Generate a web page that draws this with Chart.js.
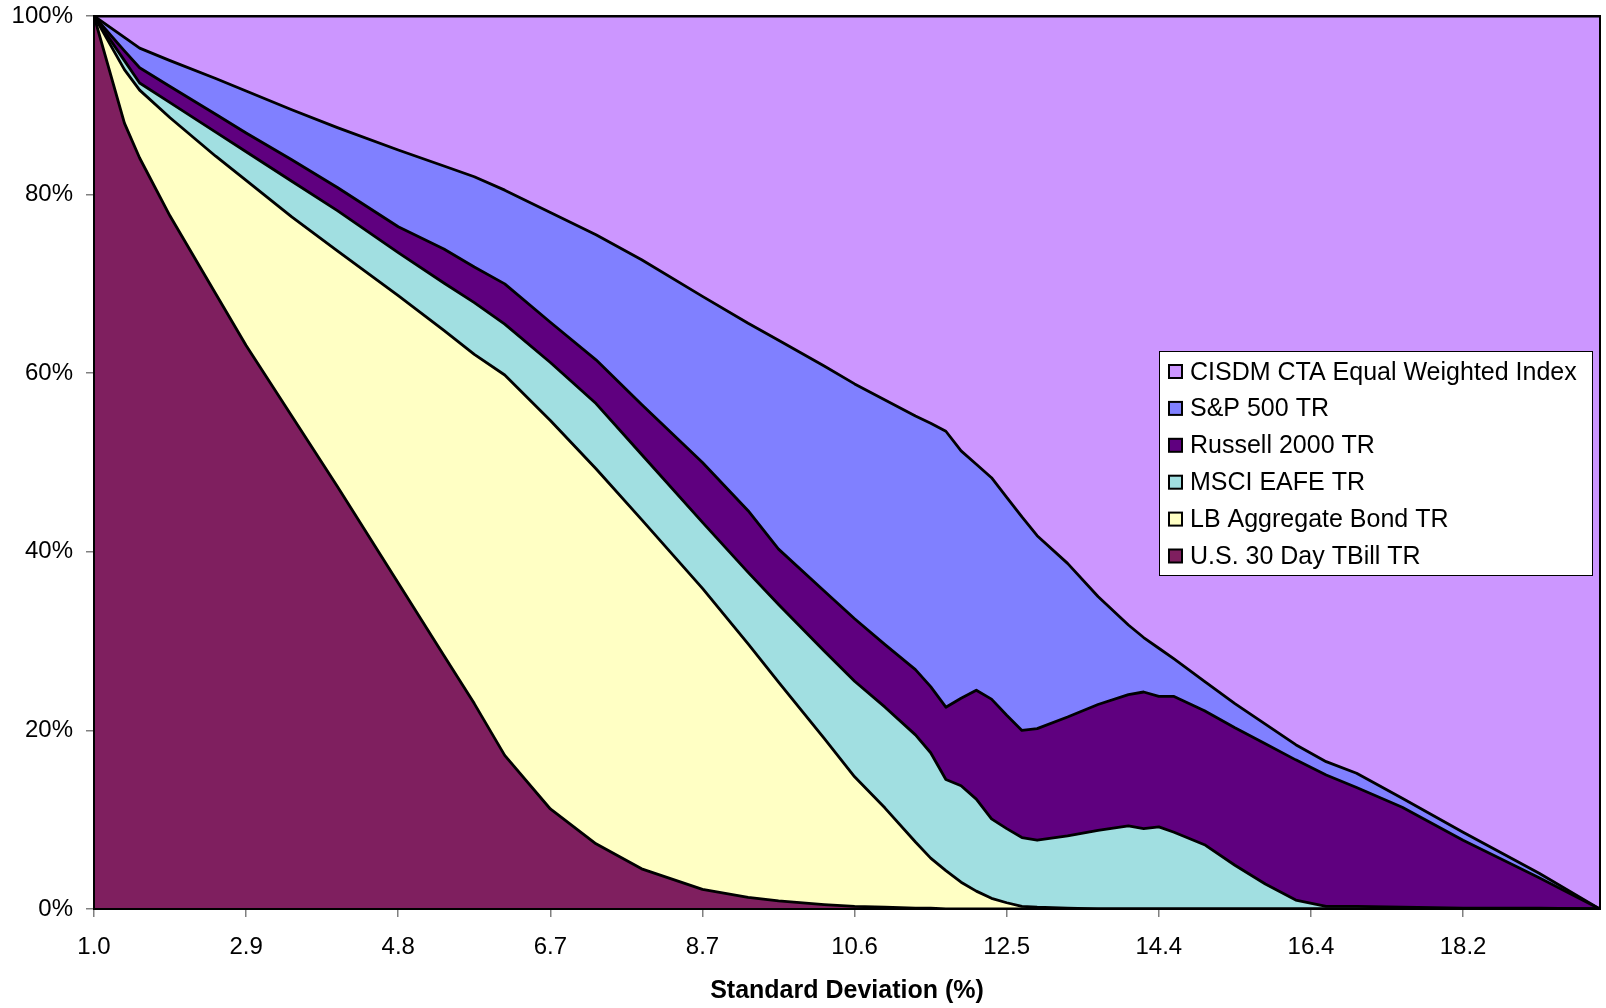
<!DOCTYPE html>
<html>
<head>
<meta charset="utf-8">
<title>Optimal allocation by standard deviation</title>
<script src="https://cdn.jsdelivr.net/npm/chart.js@4.4.1/dist/chart.umd.min.js"></script>
<style>
  html, body { margin: 0; padding: 0; background: #fff; }
  #wrap { width: 1606px; height: 1008px; }
</style>
</head>
<body>
<div id="wrap"><canvas id="chart" width="1606" height="1008"></canvas></div>
<script>
// x axis: category positions (0..99), one tick label every 10 categories
const tickLabels = ['1.0', '2.9', '4.8', '6.7', '8.7', '10.6', '12.5', '14.4', '16.4', '18.2'];
const pointIndex = [0, 2, 3, 5, 8, 10, 13, 16, 20, 23, 25, 27, 30, 33, 36, 40, 43, 45, 48, 50,
  52, 54, 55, 56, 57, 58, 59, 60, 61, 62, 64, 66, 68, 69, 70, 71, 73, 75, 77, 79, 81, 83, 86, 90, 95, 99];

// weights in % (bottom of the stack first)
const tbill = [100, 88.0, 84.1, 77.6, 68.9, 63.1, 55.2, 47.3, 36.5, 28.4, 23.0, 17.2, 11.2, 7.3, 4.5, 2.2, 1.3, 0.9, 0.5, 0.3,
  0.2, 0.1, 0.1, 0, 0, 0, 0, 0, 0, 0, 0, 0, 0, 0, 0, 0, 0, 0, 0, 0, 0, 0, 0, 0, 0, 0];
const lbAggregate = [0, 6.0, 7.6, 11.0, 15.4, 18.5, 22.3, 26.4, 32.2, 36.4, 39.1, 42.6, 43.5, 42.0, 39.1, 33.7, 28.4, 24.5, 18.6, 14.5,
  11.1, 7.4, 5.6, 4.3, 3.0, 2.0, 1.2, 0.7, 0.3, 0.2, 0.1, 0, 0, 0, 0, 0, 0, 0, 0, 0, 0, 0, 0, 0, 0, 0];
const msciEafe = [0, 1.0, 0.8, 1.7, 2.7, 3.2, 4.0, 4.5, 4.8, 5.3, 5.8, 5.7, 6.5, 7.3, 7.3, 7.4, 8.0, 8.7, 9.8, 10.7,
  11.3, 12.0, 11.8, 10.2, 10.8, 10.3, 8.9, 8.3, 7.7, 7.5, 8.1, 8.8, 9.3, 9.0, 9.2, 8.6, 7.2, 4.9, 2.8, 1.0, 0.3, 0.3, 0.2, 0.1, 0.1, 0];
const russell2000 = [0, 1.1, 1.7, 1.8, 2.0, 2.1, 2.4, 2.6, 2.9, 3.8, 4.0, 4.5, 4.5, 4.9, 5.6, 6.7, 6.9, 6.2, 6.7, 7.0,
  7.0, 7.3, 7.4, 8.1, 9.8, 12.2, 13.4, 12.7, 12.0, 12.5, 13.3, 14.1, 14.7, 15.3, 14.6, 15.2, 15.0, 15.4, 15.7, 15.7, 14.7, 13.3, 11.2, 7.6, 3.4, 0];
const sp500 = [0, 1.5, 2.2, 2.9, 4.0, 4.7, 5.6, 6.7, 8.6, 9.3, 10.1, 10.5, 12.3, 14.0, 16.2, 18.6, 21.0, 23.4, 25.2, 26.3,
  27.4, 28.4, 29.5, 30.9, 27.7, 25.3, 24.8, 24.4, 23.9, 21.6, 17.2, 12.1, 7.8, 6.1, 5.4, 4.2, 3.3, 2.7, 2.2, 1.7, 1.5, 1.6, 1.0, 0.9, 0.5, 0];
const cisdmCta = [0, 2.4, 3.6, 5.0, 7.0, 8.4, 10.5, 12.5, 15.0, 16.8, 18.0, 19.5, 22.0, 24.5, 27.3, 31.4, 34.4, 36.3, 39.2, 41.2,
  43.0, 44.8, 45.6, 46.5, 48.7, 50.2, 51.7, 53.9, 56.1, 58.2, 61.3, 65.0, 68.2, 69.6, 70.8, 72.0, 74.5, 77.0, 79.3, 81.6, 83.5, 84.8, 87.6, 91.4, 96.0, 100];

const yTicks = [0, 20, 40, 60, 80, 100];

const FONT = '"Liberation Sans", Arial, Helvetica, sans-serif';

function series(label, values, color, fill) {
  return {
    label: label,
    data: pointIndex.map((x, k) => ({ x: x, y: values[k] })),
    backgroundColor: color,
    borderColor: '#000000',
    borderWidth: 2.8,
    borderJoinStyle: 'round',
    pointRadius: 0,
    pointHoverRadius: 0,
    tension: 0,
    fill: fill
  };
}

const datasets = [
  series('U.S. 30 Day TBill TR', tbill, '#7F1F5F', 'origin'),
  series('LB Aggregate Bond TR', lbAggregate, '#FFFFC4', '-1'),
  series('MSCI EAFE TR', msciEafe, '#A1DFE1', '-1'),
  series('Russell 2000 TR', russell2000, '#5F007F', '-1'),
  series('S&P 500 TR', sp500, '#8080FF', '-1'),
  series('CISDM CTA Equal Weighted Index', cisdmCta, '#CC96FF', '-1')
];

// black frame round the plot area
const plotFrame = {
  id: 'plotFrame',
  afterDatasetsDraw(chart) {
    const { ctx, chartArea: a } = chart;
    ctx.save();
    ctx.strokeStyle = '#000';
    ctx.lineWidth = 2;
    ctx.strokeRect(a.left, a.top, a.right - a.left, a.bottom - a.top);
    ctx.restore();
  }
};

// legend box sitting inside the plot, top entry = top of the stack
const boxLegend = {
  id: 'boxLegend',
  afterDraw(chart) {
    const ctx = chart.ctx;
    const items = chart.data.datasets.slice().reverse();
    ctx.save();
    ctx.fillStyle = '#fff';
    ctx.fillRect(1159, 351, 433, 224);
    ctx.strokeStyle = '#000';
    ctx.lineWidth = 1;
    ctx.strokeRect(1159.5, 351.5, 433, 224);
    ctx.font = '25px ' + FONT;
    ctx.textBaseline = 'alphabetic';
    ctx.textAlign = 'left';
    items.forEach((ds, k) => {
      const top = 365 + k * 36.9;
      ctx.fillStyle = ds.backgroundColor;
      ctx.fillRect(1169, top, 13, 13);
      ctx.lineWidth = 2;
      ctx.strokeStyle = '#000';
      ctx.strokeRect(1169, top, 13, 13);
      ctx.fillStyle = '#000';
      ctx.fillText(ds.label, 1190, 379.5 + k * 36.9);
    });
    ctx.restore();
  }
};

new Chart(document.getElementById('chart'), {
  type: 'line',
  data: { datasets: datasets },
  plugins: [plotFrame, boxLegend],
  options: {
    responsive: false,
    animation: false,
    events: [],
    layout: { padding: { top: 16, right: 6, left: 0, bottom: 0 } },
    plugins: {
      legend: { display: false },
      tooltip: { enabled: false },
      filler: { propagate: false }
    },
    scales: {
      x: {
        type: 'linear',
        min: 0,
        max: 99,
        afterBuildTicks: (scale) => { scale.ticks = tickLabels.map((t, k) => ({ value: k * 10 })); },
        afterFit: (scale) => { scale.height = 99; scale.paddingLeft = 0; scale.paddingRight = 0; },
        grid: { drawOnChartArea: false, drawTicks: true, tickLength: 8, color: '#808080', lineWidth: 1.5 },
        border: { display: false },
        ticks: {
          color: '#000',
          font: { family: FONT, size: 24 },
          padding: 16,
          maxRotation: 0,
          autoSkip: false,
          callback: (value, index) => tickLabels[index]
        },
        title: {
          display: true,
          text: 'Standard Deviation (%)',
          color: '#000',
          font: { family: FONT, size: 25, weight: 'bold' },
          padding: { top: 0, bottom: 2 }
        }
      },
      y: {
        stacked: true,
        min: 0,
        max: 100,
        afterBuildTicks: (scale) => { scale.ticks = yTicks.map((v) => ({ value: v })); },
        afterFit: (scale) => { scale.width = 94; scale.paddingTop = 0; scale.paddingBottom = 0; },
        grid: { drawOnChartArea: false, drawTicks: true, tickLength: 8, color: '#808080', lineWidth: 1.5 },
        border: { display: false },
        ticks: {
          color: '#000',
          font: { family: FONT, size: 24 },
          padding: 13,
          callback: (value) => value + '%'
        }
      }
    }
  }
});
</script>
</body>
</html>
